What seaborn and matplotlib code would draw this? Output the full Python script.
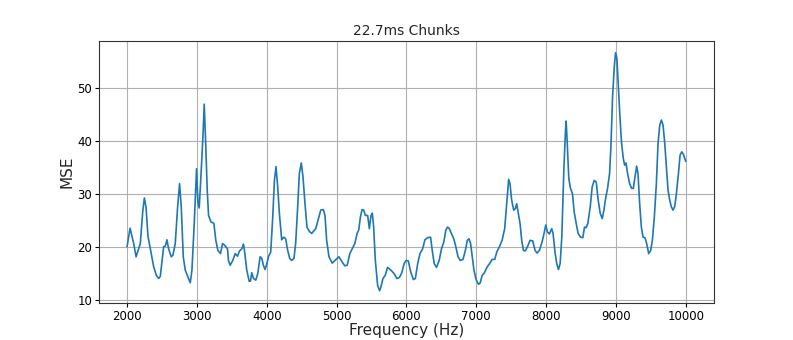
import pandas as pd
import matplotlib
matplotlib.use("Agg")
import matplotlib.pyplot as plt
import seaborn as sns

# Values (Hz, MSE)
freq_hz = [
    2000, 2043, 2095, 2129, 2190, 2224, 2248, 2271, 2300, 2338, 2381, 2419, 2452, 2476,
    2524, 2548, 2571, 2595, 2633, 2657, 2690, 2724, 2752, 2776, 2805, 2833, 2871, 2905,
    2929, 2962, 2995, 3014, 3033, 3062, 3086, 3105, 3124, 3148, 3167, 3200, 3243, 3271,
    3300, 3338, 3367, 3395, 3438, 3452, 3476, 3514, 3548, 3581, 3610, 3643, 3667, 3681,
    3714, 3748, 3767, 3786, 3810, 3843, 3871, 3905, 3929, 3952, 3976, 4000, 4024, 4057,
    4086, 4110, 4133, 4157, 4181, 4214, 4243, 4271, 4300, 4329, 4357, 4390, 4414, 4443,
    4467, 4495, 4519, 4548, 4576, 4610, 4643, 4701, 4735, 4773, 4810, 4834, 4858, 4891,
    4938, 4976, 5033, 5081, 5118, 5152, 5190, 5223, 5261, 5294, 5318, 5341, 5365, 5389,
    5412, 5445, 5469, 5493, 5512, 5531, 5555, 5588, 5616, 5635, 5664, 5697, 5730, 5758,
    5791, 5825, 5863, 5900, 5934, 5967, 5995, 6028, 6062, 6100, 6128, 6161, 6194, 6232,
    6265, 6303, 6346, 6370, 6398, 6431, 6469, 6502, 6536, 6564, 6588, 6611, 6645, 6678,
    6706, 6739, 6773, 6810, 6844, 6872, 6896, 6919, 6943, 6967, 7000, 7033, 7057, 7085,
    7118, 7152, 7190, 7227, 7265, 7294, 7332, 7370, 7407, 7435, 7464, 7483, 7507, 7536,
    7560, 7579, 7598, 7627, 7651, 7675, 7703, 7737, 7770, 7809, 7842, 7871, 7904, 7943,
    7971, 7995, 8019, 8048, 8081, 8100, 8129, 8153, 8177, 8201, 8225, 8254, 8278, 8287,
    8301, 8325, 8349, 8378, 8402, 8431, 8459, 8493, 8526, 8550, 8574, 8598, 8632, 8660,
    8689, 8718, 8746, 8775, 8804, 8828, 8852, 8880, 8909, 8928, 8952, 8976, 8995, 9014,
    9033, 9057, 9081, 9105, 9124, 9144, 9167, 9196, 9225, 9249, 9273, 9297, 9316, 9340,
    9364, 9388, 9416, 9440, 9469, 9498, 9522, 9550, 9579, 9603, 9627, 9651, 9675, 9699,
    9722, 9746, 9770, 9794, 9818, 9842, 9866, 9895, 9919, 9943, 9967, 10000,
]
mse = [
    20.1, 23.6, 20.7, 18.2, 20.7, 26.7, 29.3, 27.6, 22.0, 19.4, 16.3, 14.7, 14.1, 14.5,
    20.1, 20.2, 21.4, 19.7, 18.2, 18.5, 20.7, 27.6, 32.0, 27.6, 18.2, 15.7, 14.4, 13.3,
    15.7, 24.5, 34.8, 28.6, 27.4, 34.5, 40.8, 47.0, 40.2, 30.8, 26.0, 24.8, 24.5, 21.3,
    19.4, 18.8, 20.7, 20.4, 19.7, 17.5, 16.6, 17.5, 18.8, 18.3, 19.3, 19.7, 20.6, 19.4,
    15.7, 13.6, 13.6, 15.2, 14.1, 13.8, 15.0, 18.2, 17.9, 16.6, 15.8, 16.8, 18.2, 19.1,
    25.7, 32.6, 35.2, 31.4, 26.4, 21.4, 21.9, 21.6, 19.4, 17.9, 17.5, 17.9, 20.7, 27.6,
    33.9, 35.9, 33.3, 28.2, 23.8, 23.0, 22.6, 23.5, 25.1, 27.0, 27.1, 26.0, 21.3, 18.2,
    17.0, 17.5, 18.2, 17.2, 16.5, 16.6, 18.8, 19.7, 20.7, 22.6, 23.3, 25.7, 27.1, 27.0,
    26.0, 26.0, 23.5, 26.0, 26.4, 23.8, 17.5, 12.8, 11.8, 12.5, 14.1, 14.7, 16.2, 15.9,
    15.5, 15.0, 14.1, 14.3, 15.2, 16.9, 17.5, 17.4, 15.3, 13.9, 14.1, 16.9, 18.8, 19.7,
    21.4, 21.8, 21.9, 19.4, 16.9, 16.2, 17.5, 19.7, 21.0, 23.2, 23.8, 23.6, 22.6, 21.6,
    20.2, 18.2, 17.5, 17.7, 19.4, 21.3, 21.6, 20.7, 18.2, 15.7, 13.8, 13.0, 13.3, 14.7,
    15.2, 16.2, 16.9, 17.7, 17.7, 19.1, 20.1, 21.3, 23.5, 28.2, 32.8, 32.0, 28.9, 27.0,
    27.3, 28.2, 26.7, 24.5, 21.3, 19.4, 19.3, 20.2, 21.3, 21.2, 19.4, 18.9, 19.4, 21.0,
    22.6, 24.2, 22.9, 22.5, 23.5, 22.6, 18.9, 16.9, 15.8, 16.9, 21.9, 34.5, 42.1, 43.8,
    40.2, 33.0, 31.1, 30.1, 26.7, 24.5, 22.6, 21.9, 21.8, 23.8, 23.7, 24.5, 27.6, 31.4,
    32.6, 32.3, 28.9, 26.4, 25.4, 27.0, 29.2, 31.1, 33.9, 38.9, 48.4, 54.0, 56.7, 55.6,
    50.9, 44.7, 39.6, 36.8, 35.5, 35.9, 33.9, 32.0, 31.1, 31.1, 33.3, 35.3, 33.9, 28.2,
    23.8, 21.9, 21.8, 20.7, 18.8, 19.4, 21.3, 25.7, 32.0, 39.6, 43.0, 44.0, 43.0, 39.6,
    35.2, 30.8, 28.9, 27.6, 27.0, 27.7, 30.1, 33.9, 37.4, 38.0, 37.5, 36.2,
]

TITLE = "22.7ms Chunks"
X_LABEL = "Frequency (Hz)"
Y_LABEL = "MSE"

sns.set_style("ticks", {"axes.grid": True, "grid.color": "#b0b0b0",
                        "axes.edgecolor": "black"})
plt.rcParams["font.family"] = ["DejaVu Sans"]

df = pd.DataFrame({"freq": freq_hz, "mse": mse})

fig, ax = plt.subplots(figsize=(7.93, 3.40), dpi=100)
fig.subplots_adjust(left=0.125, right=0.9, bottom=0.11, top=0.88)

sns.lineplot(data=df, x="freq", y="mse", ax=ax, color="#1f77b4",
             linewidth=1.2, estimator=None)

ax.set_title(TITLE, fontsize=10, pad=4)
ax.set_xlabel(X_LABEL, fontsize=11, labelpad=0)
ax.set_ylabel(Y_LABEL, fontsize=11, labelpad=2)
ax.tick_params(labelsize=8.5, length=3, width=0.8, pad=2, colors="black")
ax.set_xticks([2000, 3000, 4000, 5000, 6000, 7000, 8000, 9000, 10000])
ax.set_yticks([10, 20, 30, 40, 50])
ax.grid(True, color="#b0b0b0", linewidth=0.8)
for s in ax.spines.values():
    s.set_linewidth(0.8)
    s.set_color("#333333")

fig.savefig("out.png", dpi=100)
